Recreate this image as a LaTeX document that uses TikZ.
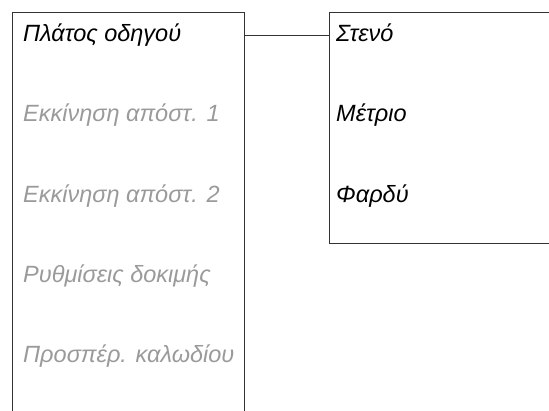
\documentclass[tikz,border=0pt]{standalone}
\usepackage{fontspec}
\setmainfont{Liberation Sans}
\usetikzlibrary{positioning}
\definecolor{menuline}{HTML}{333333}
\definecolor{menugray}{HTML}{9A9A9A}

\begin{document}
\begin{tikzpicture}[x=1pt, y=1pt,
  panel/.style={draw=menuline, line width=1pt, inner sep=0pt},
  item/.style={anchor=base west, inner sep=0pt, font=\fontsize{23.5}{27}\selectfont\itshape},
  dim/.style={item, text=menugray},
  link/.style={draw=menuline, line width=1pt},
]
\useasboundingbox (0,0) rectangle (549,-410);
\clip (0,0) rectangle (549,-410);

% ---- Menu panel ----
\node[panel, minimum width=232pt, minimum height=420pt, anchor=north west]
  (menu) at (12,-12) {};
\node[item] (width) at (23,-41.7) {Πλάτος οδηγού};
\node[dim] (start1) at (23,-121.7) {Εκκίνηση απόστ. 1};
\node[dim] (start2) at (23,-202) {Εκκίνηση απόστ. 2};
\node[dim] (test) at (23,-282.3) {Ρυθμίσεις δοκιμής};
\node[dim] (skip) at (23,-362.5) {Προσπέρ. καλωδίου};

% ---- Choice panel ----
\node[panel, minimum width=240pt, minimum height=231pt, anchor=north west]
  (choice) at (329,-12) {};
\node[item] (narrow) at (336,-41.7) {Στενό};
\node[item] (medium) at (336,-121.7) {Μέτριο};
\node[item] (wide) at (336,-202) {Φαρδύ};

\coordinate (tap) at (0,-35.5);
\draw[link] (menu.east |- tap) -- (choice.west |- tap);

\end{tikzpicture}
\end{document}
